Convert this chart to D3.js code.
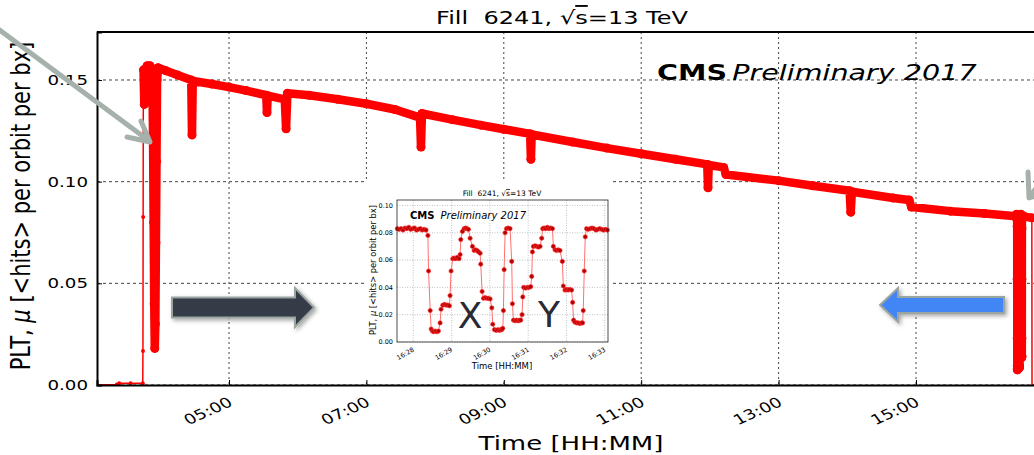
<!DOCTYPE html>
<html>
<head>
<meta charset="utf-8">
<script src="https://cdnjs.cloudflare.com/ajax/libs/d3/7.8.5/d3.min.js"></script>
<style>
  body { margin: 0; background: #fff; }
  svg { display: block; font-family: "DejaVu Sans", sans-serif; }
</style>
</head>
<body>
<div id="chart"></div>
<script>
// ---- data ----
let hourTicks = ["05:00", "07:00", "09:00", "11:00", "13:00", "15:00"];
let muTicks = [0.00, 0.05, 0.10, 0.15];
let insetMinuteTicks = ["16:28", "16:29", "16:30", "16:31", "16:32", "16:33"];
let insetMuTicks = [0.00, 0.02, 0.04, 0.06, 0.08, 0.10];

// before beams in collision and ramp up (thin line)
let injection = [
    ["03:04:40", 0.0000], ["03:22:00", 0.0003], ["03:24:00", 0.0008],
    ["03:34:00", 0.0008], ["03:44:40", 0.0008], ["03:44:50", 0.0167],
    ["03:45:00", 0.0826], ["03:45:10", 0.1530]
];
// the fill itself (dense band of points)
let fill = [
    ["03:45:20", 0.155], ["03:46:00", 0.138], ["03:46:40", 0.142], ["03:47:20", 0.155],
    ["03:48:30", 0.157], ["03:51:00", 0.157], ["03:53:00", 0.155], ["03:53:40", 0.120],
    ["03:54:10", 0.080], ["03:54:40", 0.040], ["03:55:10", 0.018], ["03:55:40", 0.030],
    ["03:56:10", 0.070], ["03:56:40", 0.110], ["03:57:10", 0.150], ["03:58:00", 0.156],
    ["04:05:00", 0.1545], ["04:15:00", 0.1525], ["04:27:00", 0.1500], ["04:27:40", 0.1230],
    ["04:28:20", 0.1495], ["04:45:00", 0.1480], ["05:00:00", 0.1465], ["05:15:00", 0.1448],
    ["05:32:30", 0.1425], ["05:33:10", 0.1340], ["05:33:50", 0.1423], ["05:48:40", 0.1405],
    ["05:49:50", 0.1260], ["05:51:00", 0.1435], ["06:10:00", 0.1425], ["06:35:00", 0.1405],
    ["07:00:00", 0.1383], ["07:25:00", 0.1355], ["07:46:50", 0.1315], ["07:47:40", 0.1170],
    ["07:48:30", 0.1335], ["08:15:00", 0.1305], ["08:40:00", 0.1278], ["09:00:00", 0.1258],
    ["09:23:00", 0.1235], ["09:23:40", 0.1110], ["09:24:20", 0.1232], ["10:00:00", 0.1195],
    ["10:30:00", 0.1165], ["11:00:00", 0.1137], ["11:30:00", 0.1110], ["11:57:40", 0.1085],
    ["11:58:20", 0.0970], ["11:59:00", 0.1082], ["12:12:00", 0.1070], ["12:14:00", 0.1035],
    ["13:00:00", 0.1005], ["13:30:00", 0.0980], ["14:02:00", 0.0955], ["14:03:00", 0.0850],
    ["14:04:00", 0.0950], ["14:40:00", 0.0920], ["14:54:00", 0.0910], ["14:56:00", 0.0875],
    ["15:30:00", 0.0855], ["16:00:00", 0.0843], ["16:27:20", 0.0830]
];
let afterScan = [["16:35:00", 0.0828], ["16:41:10", 0.0822]];
let dump = [["16:41:10", 0.0822], ["16:41:20", 0.0000], ["16:55:00", 0.0000]];

// X/Y beam separation scan, seconds after 16:28:00
let scanStart = "16:28:00";
let scan = [
    [-25,0.083],[-22,0.0825],[-19,0.083],[-16,0.082],[-13,0.0835],[-10,0.083],[-7,0.084],[-4,0.0825],
    [-1,0.083],[2,0.0835],[5,0.082],[8,0.0825],[11,0.083],[14,0.082],[17,0.0825],[20,0.082],
    [22.9,0.078],[23.9,0.052],[26.5,0.023],[28,0.0095],[30,0.008],[32,0.0075],[34.5,0.008],[37,0.0075],
    [39.4,0.008],[42,0.014],[43.5,0.024],[46.2,0.027],[49,0.0275],[51.5,0.027],[54,0.027],[56.6,0.0265],
    [57.6,0.034],[59.2,0.052],[61.8,0.061],[64,0.0615],[66.5,0.061],[69,0.062],[71.7,0.061],[73.4,0.064],
    [74.4,0.075],[77,0.081],[79.6,0.083],[82,0.0835],[84,0.083],[86.4,0.0825],[89,0.076],[92.7,0.070],
    [95.3,0.067],[97.5,0.0675],[100,0.067],[102.1,0.066],[104.7,0.065],[105.7,0.057],[107.8,0.037],[110,0.032],
    [112.5,0.0325],[115,0.032],[117.5,0.032],[120.4,0.0315],[123,0.025],[124.5,0.013],[127.2,0.009],[130,0.0085],
    [132.5,0.009],[135,0.0085],[137,0.009],[138.6,0.009],[140.2,0.010],[141.2,0.023],[142.3,0.053],[143.8,0.080],
    [146,0.083],[148.5,0.0835],[151.6,0.083],[154.2,0.059],[155.3,0.028],[156.9,0.016],[159.5,0.0155],[162,0.016],
    [164.5,0.0155],[166.5,0.016],[168.3,0.016],[170.4,0.020],[171.5,0.033],[173,0.040],[176,0.0395],[179,0.040],
    [181.5,0.040],[184,0.0405],[185.5,0.048],[186.6,0.066],[188.2,0.070],[191,0.0705],[193.5,0.070],[196,0.0695],
    [198.6,0.070],[201.2,0.076],[202.7,0.083],[205,0.0835],[207.5,0.083],[210,0.084],[212.5,0.083],[215,0.0835],
    [218,0.083],[219.4,0.070],[222,0.0675],[224.5,0.067],[227,0.0675],[229.8,0.067],[233.5,0.059],[235,0.041],
    [237.6,0.038],[240,0.0385],[242.5,0.038],[245,0.0385],[248,0.038],[249.6,0.029],[251.1,0.016],[253.2,0.0145],
    [256,0.014],[258.5,0.014],[261,0.0135],[263.5,0.014],[265.2,0.014],[266.2,0.023],[267.8,0.052],[269.4,0.077],
    [271.4,0.083],[274,0.0825],[277,0.083],[280,0.0835],[283,0.083],[286,0.082],[289,0.0825],[292,0.083],
    [295,0.0825],[298,0.082],[301,0.0825],[304,0.082]
];

// ---- setup ----
let larg = 1034;
let alt = 455;
let SX = 1.3;   // the original picture is stretched sideways

let pt = d3.timeParse("%H:%M:%S");
let pm = d3.timeParse("%H:%M");
let t0 = pt(scanStart).getTime();
let scanPts = scan.map(d => ({t: new Date(t0 + d[0] * 1000), v: d[1]}));
let toPts = arr => arr.map(d => ({t: pt(d[0]), v: d[1]}));

let canvas = d3.select("#chart")
    .append("svg")
    .attr("width", larg)
    .attr("height", alt);

let pLeft = 97, pRight = 1045, pTop = 32, pBottom = 385;

let x = d3.scaleTime()
    .domain([pt("03:04:42"), pt("16:52:40")])
    .range([pLeft, pRight]);
let y = d3.scaleLinear()
    .domain([0, 0.1736])
    .range([pBottom, pTop]);

let defs = canvas.append("defs");
defs.append("clipPath").attr("id", "plotclip")
    .append("rect").attr("x", pLeft).attr("y", pTop - 10)
    .attr("width", pRight - pLeft).attr("height", pBottom - pTop + 10);

// grid
canvas.append("g").selectAll("line")
    .data(muTicks)
    .enter().append("line")
    .attr("x1", pLeft).attr("x2", pRight)
    .attr("y1", d => y(d)).attr("y2", d => y(d))
    .attr("stroke", "#444").attr("stroke-width", 1)
    .attr("stroke-dasharray", "3,3");
canvas.append("g").selectAll("line")
    .data(hourTicks)
    .enter().append("line")
    .attr("x1", d => x(pm(d))).attr("x2", d => x(pm(d)))
    .attr("y1", pTop).attr("y2", pBottom)
    .attr("stroke", "#444").attr("stroke-width", 1)
    .attr("stroke-dasharray", "2,3");

// data
let line = d3.line().x(d => x(d.t)).y(d => y(d.v));
let band = toPts(fill).concat(scanPts, toPts(afterScan));
let dataG = canvas.append("g").attr("clip-path", "url(#plotclip)");

dataG.append("path")
    .datum(toPts(injection))
    .attr("d", line)
    .attr("fill", "none").attr("stroke", "red").attr("stroke-width", 1.5);
dataG.append("path")
    .datum(toPts(dump))
    .attr("d", line)
    .attr("fill", "none").attr("stroke", "red").attr("stroke-width", 1.5);
dataG.selectAll(".inj")
    .data(toPts(injection).slice(1))
    .enter().append("circle")
    .attr("cx", d => x(d.t)).attr("cy", d => y(d.v))
    .attr("r", 2).attr("fill", "red");
dataG.append("path")
    .datum(band)
    .attr("d", line)
    .attr("fill", "none").attr("stroke", "red")
    .attr("stroke-width", 8.5)
    .attr("stroke-linejoin", "round").attr("stroke-linecap", "round");
dataG.selectAll(".pt")
    .data(band)
    .enter().append("circle")
    .attr("cx", d => x(d.t)).attr("cy", d => y(d.v))
    .attr("r", 4.5).attr("fill", "red");

// spines and inside ticks
canvas.append("g").attr("transform", `translate(0,${pBottom})`)
    .call(d3.axisBottom(x).tickValues(hourTicks.map(pm)).tickSize(-5).tickFormat(""))
    .call(g => g.select(".domain").attr("stroke-width", 2));
canvas.append("g").attr("transform", `translate(${pLeft},0)`)
    .call(d3.axisLeft(y).tickValues(muTicks).tickSize(-5).tickFormat(""))
    .call(g => g.select(".domain").attr("stroke-width", 2));
canvas.append("line").attr("x1", pLeft).attr("x2", pRight)
    .attr("y1", pTop).attr("y2", pTop)
    .attr("stroke", "black").attr("stroke-width", 2);

// labels (stretched like the source image)
function stretched(g, tx, ty, rot) {
    return g.append("text")
        .attr("transform", `translate(${tx},${ty}) scale(${SX},1)` + (rot ? ` rotate(${rot})` : ""));
}
muTicks.forEach(v => {
    stretched(canvas, 88, y(v) + 5, 0)
        .attr("text-anchor", "end").style("font-size", "14px")
        .text(d3.format(".2f")(v));
});
hourTicks.forEach(h => {
    stretched(canvas, x(pm(h)) - 2, 396, -30)
        .attr("text-anchor", "end").attr("dy", "0.75em").style("font-size", "14px")
        .text(h);
});
stretched(canvas, (pLeft + pRight) / 2, 450, 0)
    .attr("text-anchor", "middle").style("font-size", "20px")
    .text("Time [HH:MM]");
stretched(canvas, 30, 206, -90)
    .attr("text-anchor", "middle").style("font-size", "21px")
    .html('PLT, <tspan font-style="italic">μ</tspan> [&lt;hits&gt; per orbit per bx]');

let title = stretched(canvas, 562, 24, 0)
    .attr("text-anchor", "middle").style("font-size", "18.5px").style("white-space", "pre");
title.append("tspan").text("Fill  6241, √");
title.append("tspan").style("text-decoration", "overline").text("s");
title.append("tspan").text("=13 TeV");

let cms = stretched(canvas, 657, 80, 0).style("font-size", "22px");
cms.append("tspan").style("font-weight", "bold").text("CMS");
cms.append("tspan").attr("dx", 4).style("font-style", "italic").text("Preliminary 2017");

// ---- inset ----
let ins = canvas.append("g");
ins.append("rect").attr("x", 365).attr("y", 179).attr("width", 248).attr("height", 200)
    .attr("fill", "white");
let ix = d3.scaleTime()
    .domain([new Date(t0 - 25500), new Date(t0 + 305000)])
    .range([397, 608]);
let iy = d3.scaleLinear().domain([0, 0.104]).range([342, 200]);

ins.append("g").selectAll("line").data(insetMuTicks).enter().append("line")
    .attr("x1", 397).attr("x2", 608).attr("y1", d => iy(d)).attr("y2", d => iy(d))
    .attr("stroke", "#999").attr("stroke-width", 0.6).attr("stroke-dasharray", "1,1.5");
ins.append("g").selectAll("line").data(insetMinuteTicks).enter().append("line")
    .attr("x1", d => ix(pm(d))).attr("x2", d => ix(pm(d))).attr("y1", 200).attr("y2", 342)
    .attr("stroke", "#999").attr("stroke-width", 0.6).attr("stroke-dasharray", "1,1.5");

let iline = d3.line().x(d => ix(d.t)).y(d => iy(d.v));
ins.append("path").datum(scanPts).attr("d", iline)
    .attr("fill", "none").attr("stroke", "#ff7070").attr("stroke-width", 1);
ins.selectAll(".ipt").data(scanPts).enter().append("circle")
    .attr("cx", d => ix(d.t)).attr("cy", d => iy(d.v)).attr("r", 2.1)
    .attr("fill", "#b00000").attr("stroke", "#ff2a2a").attr("stroke-width", 0.7);

ins.append("rect").attr("x", 397).attr("y", 200).attr("width", 211).attr("height", 142)
    .attr("fill", "none").attr("stroke", "#222").attr("stroke-width", 0.8);

insetMuTicks.forEach(v => {
    ins.append("text").attr("x", 393).attr("y", iy(v) + 2.2)
        .attr("text-anchor", "end").style("font-size", "6.5px").text(d3.format(".2f")(v));
});
insetMinuteTicks.forEach(m => {
    ins.append("text")
        .attr("transform", `translate(${ix(pm(m)) - 1},${347}) rotate(-30)`)
        .attr("text-anchor", "end").attr("dy", "0.7em").style("font-size", "6.5px").text(m);
});
ins.append("text").attr("x", 502).attr("y", 369).attr("text-anchor", "middle")
    .style("font-size", "8.5px").text("Time [HH:MM]");
ins.append("text").attr("transform", "translate(376,270) rotate(-90)")
    .attr("text-anchor", "middle").style("font-size", "8.3px")
    .html('PLT, <tspan font-style="italic">μ</tspan> [&lt;hits&gt; per orbit per bx]');
let it = ins.append("text").attr("x", 502).attr("y", 196).attr("text-anchor", "middle")
    .style("font-size", "7.5px").style("white-space", "pre");
it.append("tspan").text("Fill  6241, √");
it.append("tspan").style("text-decoration", "overline").text("s");
it.append("tspan").text("=13 TeV");
let icms = ins.append("text").attr("x", 410).attr("y", 219).style("font-size", "10px");
icms.append("tspan").style("font-weight", "bold").text("CMS");
icms.append("tspan").attr("dx", 6).style("font-style", "italic").text("Preliminary 2017");
ins.append("text").attr("x", 470).attr("y", 328).attr("text-anchor", "middle")
    .style("font-size", "36px").attr("fill", "#2a2a33").text("X");
ins.append("text").attr("x", 549).attr("y", 327).attr("text-anchor", "middle")
    .style("font-size", "36px").attr("fill", "#2a2a33").text("Y");

// ---- annotation arrows ----
let sh = defs.append("filter").attr("id", "shadow").attr("x", "-20%").attr("y", "-40%")
    .attr("width", "140%").attr("height", "180%");
sh.append("feDropShadow").attr("dx", 2).attr("dy", 2).attr("stdDeviation", 2)
    .attr("flood-color", "#000").attr("flood-opacity", 0.35);

let grey = "#a7b1ab";
canvas.append("path")
    .attr("d", "M-6,26 L148,140 M127,137 L150,142 L141,121")
    .attr("fill", "none").attr("stroke", grey).attr("stroke-width", 5)
    .attr("stroke-linecap", "round").attr("stroke-linejoin", "round");
canvas.append("path")
    .attr("d", "M1090,115 L1031,195 M1028,172 L1029,198 L1052,190")
    .attr("fill", "none").attr("stroke", grey).attr("stroke-width", 5)
    .attr("stroke-linecap", "round").attr("stroke-linejoin", "round");

canvas.append("path")
    .attr("d", "M172,297.5 L295,297.5 L295,288 L314,307.5 L295,327 L295,317.5 L172,317.5 Z")
    .attr("fill", "#363a47").attr("stroke", "#9aa59f").attr("stroke-width", 2)
    .attr("filter", "url(#shadow)");
canvas.append("path")
    .attr("d", "M1004,297 L898,297 L898,288 L880,305 L898,322 L898,313 L1004,313 Z")
    .attr("fill", "#4385f5").attr("stroke", "#9aa59f").attr("stroke-width", 2)
    .attr("filter", "url(#shadow)");
</script>
</body>
</html>
